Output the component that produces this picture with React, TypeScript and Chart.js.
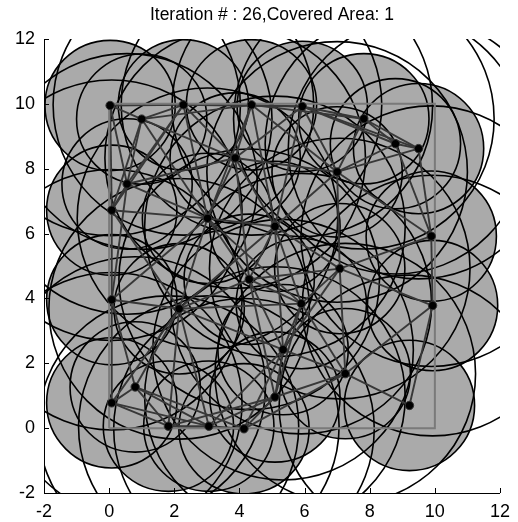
import React, { useEffect, useRef } from "react";
import { Chart, registerables } from "chart.js";

Chart.register(...registerables);

const TITLE = "Iteration # : 26,Covered Area: 1";

// sensor positions
const SENSOR_X = [
  0.03, 1.0, 2.28, 4.37, 5.93, 7.82, 8.79, 9.5, 3.87, 7.0,
  0.55, 0.08, 3.02, 5.09, 9.89, 7.08, 4.3, 0.08, 2.15, 5.9,
  9.93, 5.34, 7.25, 0.8, 0.08, 5.09, 9.22, 1.82, 3.06, 4.14,
];
const SENSOR_Y = [
  9.95, 9.53, 9.97, 9.97, 9.92, 9.54, 8.77, 8.62, 8.33, 7.9,
  7.53, 6.72, 6.47, 6.22, 5.92, 4.92, 4.59, 3.96, 3.68, 3.84,
  3.78, 2.42, 1.68, 1.27, 0.78, 0.96, 0.7, 0.06, 0.06, -0.02,
];

const SENSING_RADIUS = 2;
const COMM_RADIUS = 4;

// target region outline
const REGION_X = [0, 10, 10, 0, 0];
const REGION_Y = [0, 0, 10, 10, 0];

const AXIS_MIN = -2;
const AXIS_MAX = 12;
const TICK_STEP = 2;

const FONT = "'Liberation Sans', Arial, Helvetica, sans-serif";

function buildEdges() {
  const edges: any[] = [];
  for (let i = 0; i < SENSOR_X.length; i++) {
    for (let j = i + 1; j < SENSOR_X.length; j++) {
      const dx = SENSOR_X[i] - SENSOR_X[j];
      const dy = SENSOR_Y[i] - SENSOR_Y[j];
      if (Math.sqrt(dx * dx + dy * dy) <= COMM_RADIUS) {
        edges.push([
          { x: SENSOR_X[i], y: SENSOR_Y[i] },
          { x: SENSOR_X[j], y: SENSOR_Y[j] },
        ]);
      }
    }
  }
  return edges;
}

function pxRadius(chart: any, r: number) {
  const xs = chart.scales && chart.scales.x;
  if (!xs) return 0;
  const v = Math.abs(xs.getPixelForValue(r) - xs.getPixelForValue(0));
  return isFinite(v) ? v : 0;
}

const inwardTicks = {
  id: "inwardTicks",
  afterDatasetsDraw(chart: any) {
    const { ctx, chartArea, scales } = chart;
    const len = 5;
    ctx.save();
    ctx.strokeStyle = "#000";
    ctx.lineWidth = 1;
    ctx.beginPath();
    scales.x.ticks.forEach((t: any) => {
      const px = Math.round(scales.x.getPixelForValue(t.value)) + 0.5;
      ctx.moveTo(px, chartArea.bottom);
      ctx.lineTo(px, chartArea.bottom - len);
    });
    scales.y.ticks.forEach((t: any) => {
      const py = Math.round(scales.y.getPixelForValue(t.value)) + 0.5;
      ctx.moveTo(chartArea.left, py);
      ctx.lineTo(chartArea.left + len, py);
    });
    ctx.stroke();
    ctx.restore();
  },
};

export default function App() {
  const ref = useRef<HTMLCanvasElement | null>(null);

  useEffect(() => {
    document.body.style.margin = "0";
    const centers = SENSOR_X.map((x, i) => ({ x, y: SENSOR_Y[i] }));
    const region = REGION_X.map((x, i) => ({ x, y: REGION_Y[i] }));

    const edgeSets = buildEdges().map((pair, k) => ({
      label: "link " + k,
      data: pair,
      showLine: true,
      borderColor: "#383838",
      borderWidth: 1.9,
      pointRadius: 0,
      fill: false,
    }));

    const circleSet = (label: string, r: number, fillColor: string, edgeColor: string, edgeWidth: number) => ({
      label,
      data: centers,
      showLine: false,
      pointRadius: (c: any) => pxRadius(c.chart, r),
      pointBackgroundColor: fillColor,
      pointBorderColor: edgeColor,
      pointBorderWidth: edgeWidth,
      clip: 0,
    });

    const chart = new Chart(ref.current as HTMLCanvasElement, {
      type: "scatter",
      data: {
        datasets: [
          {
            label: "sensors",
            data: centers,
            pointRadius: 4.2,
            pointBackgroundColor: "#000",
            pointBorderColor: "#333",
            pointBorderWidth: 1,
            showLine: false,
          } as any,
          {
            label: "region",
            data: region,
            showLine: true,
            borderColor: "#7a7a7a",
            borderWidth: 2,
            pointRadius: 0,
            fill: false,
          } as any,
          ...(edgeSets as any[]),
          circleSet("comm", COMM_RADIUS, "rgba(0,0,0,0)", "#000", 1.6) as any,
          circleSet("sensing edge", SENSING_RADIUS, "rgba(0,0,0,0)", "#000", 1.6) as any,
          circleSet("sensing", SENSING_RADIUS, "#aaaaaa", "rgba(0,0,0,0)", 0) as any,
        ],
      },
      options: {
        animation: false,
        responsive: true,
        maintainAspectRatio: false,
        events: [],
        layout: { padding: { left: 0, right: 16, top: 0, bottom: 0 } },
        plugins: {
          legend: { display: false },
          tooltip: { enabled: false },
          title: {
            display: true,
            text: TITLE,
            color: "#000",
            fullSize: false,
            font: { family: FONT, size: 17.5, weight: "normal" },
            padding: { top: 5, bottom: 13 },
          } as any,
        },
        scales: {
          x: {
            type: "linear",
            min: AXIS_MIN,
            max: AXIS_MAX,
            ticks: {
              stepSize: TICK_STEP,
              color: "#000",
              font: { family: FONT, size: 18 },
              padding: 8,
            },
            grid: { display: true, drawOnChartArea: false, drawTicks: false },
            border: { display: true, color: "#000", width: 1 },
            afterFit: (s: any) => {
              s.height = 29;
            },
          },
          y: {
            type: "linear",
            min: AXIS_MIN,
            max: AXIS_MAX,
            ticks: {
              stepSize: TICK_STEP,
              color: "#000",
              font: { family: FONT, size: 18 },
              padding: 9,
            },
            grid: { display: true, drawOnChartArea: false, drawTicks: false },
            border: { display: true, color: "#000", width: 1 },
            afterFit: (s: any) => {
              s.width = 44;
            },
          },
        },
      },
      plugins: [inwardTicks],
    });
    return () => chart.destroy();
  }, []);

  return (
    <div style={{ position: "absolute", left: 0, top: 0, width: 518, height: 522 }}>
      <canvas ref={ref} />
    </div>
  );
}
